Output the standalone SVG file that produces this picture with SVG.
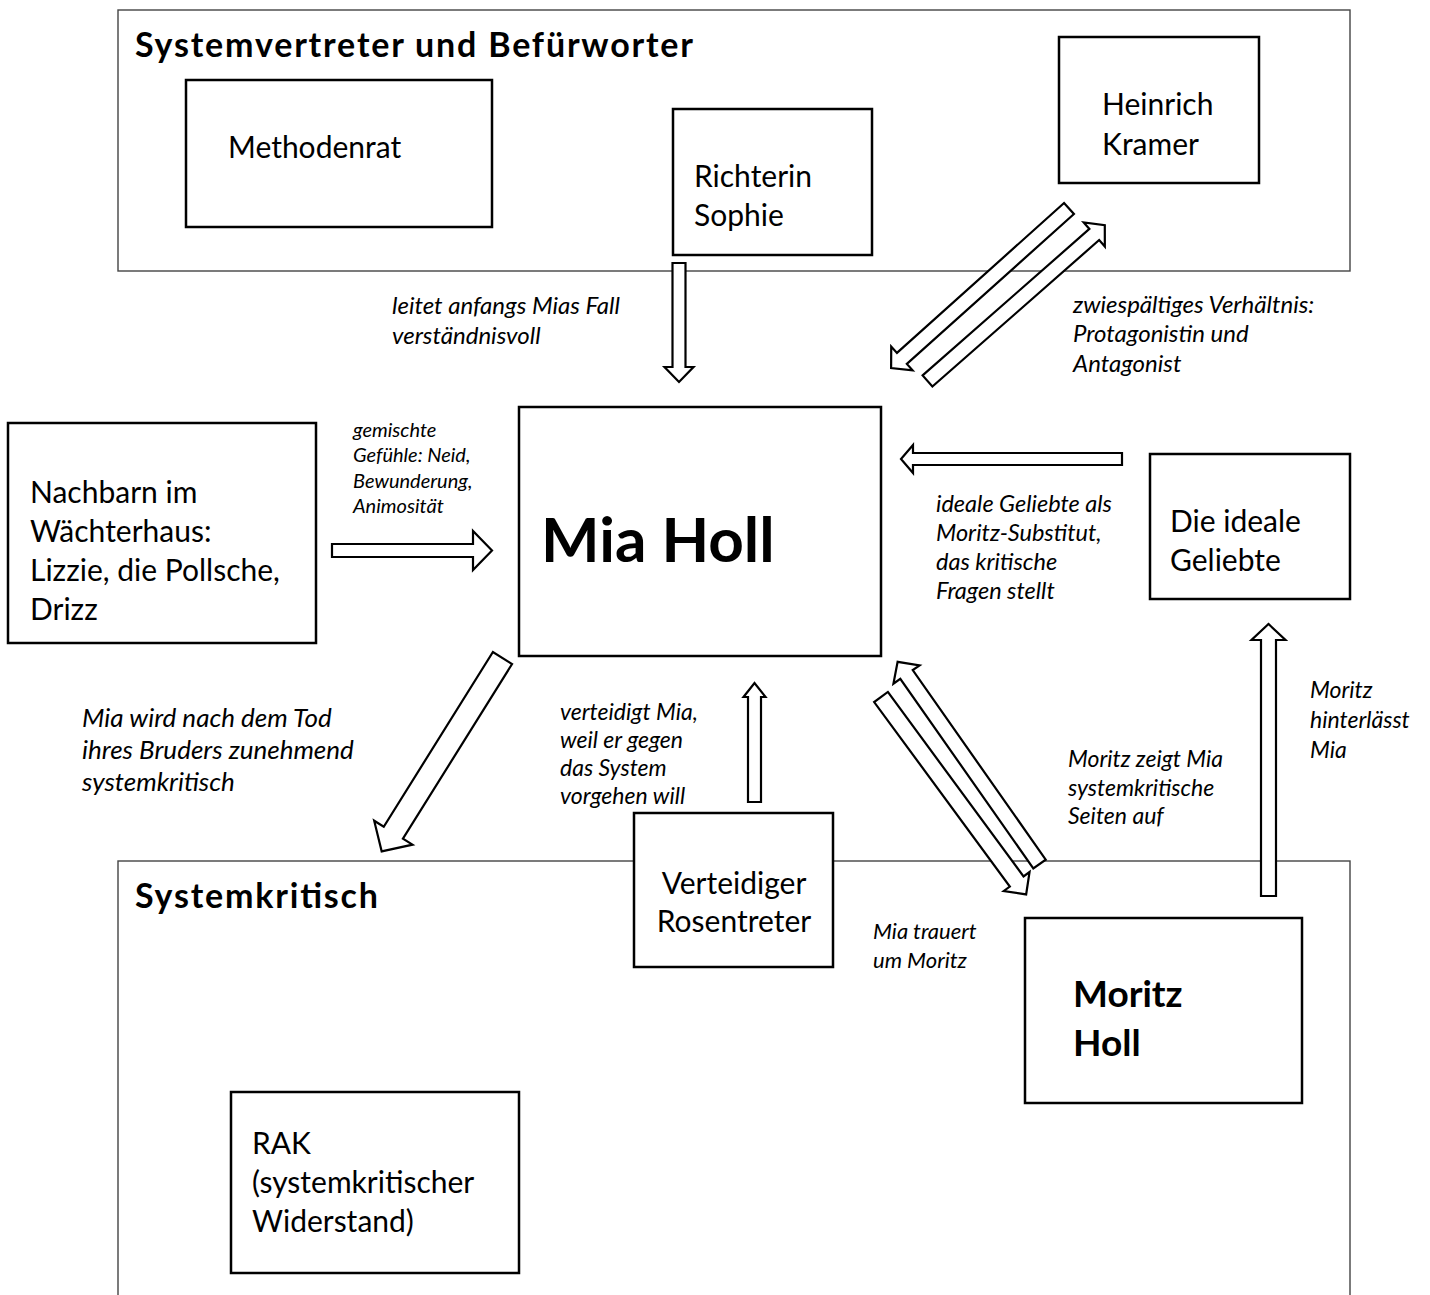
<svg xmlns="http://www.w3.org/2000/svg" width="1430" height="1295" viewBox="0 0 1430 1295">
<style>
.grp{fill:none;stroke:#444;stroke-width:1.4}
.box{fill:#fff;stroke:#000;stroke-width:2.5}
.arr{fill:#fff;stroke:#000;stroke-width:2.2;stroke-linejoin:miter}
.t{font-family:Lato,"Liberation Sans",sans-serif;font-size:30px;fill:#000}
.tb{font-family:Lato,"Liberation Sans",sans-serif;font-weight:bold;fill:#000}
.l{font-family:Lato,"Liberation Sans",sans-serif;font-style:italic;fill:#000}
</style>
<rect width="1430" height="1295" fill="#fff"/>
<g id="group-top">
<rect class="grp" x="118" y="10" width="1232" height="261"/>
<text class="tb" x="135" y="57" font-size="34" textLength="558" lengthAdjust="spacing">Systemvertreter und Befürworter</text>
</g>
<g id="group-bottom">
<rect class="grp" x="118" y="861" width="1232" height="500"/>
<text class="tb" x="135" y="908" font-size="34" textLength="243" lengthAdjust="spacing">Systemkritisch</text>
</g>
<g id="methodenrat"><rect class="box" x="186" y="80" width="306" height="147"/><text class="t" x="228" y="158">Methodenrat</text></g>
<g id="richterin"><rect class="box" x="673" y="109" width="199" height="146"/><text class="t" x="694" y="187">Richterin</text><text class="t" x="694" y="226">Sophie</text></g>
<g id="kramer"><rect class="box" x="1059" y="37" width="200" height="146"/><text class="t" x="1102" y="115">Heinrich</text><text class="t" x="1102" y="155">Kramer</text></g>
<g id="mia"><rect class="box" x="519" y="407" width="362" height="249"/><text class="tb" x="541" y="562" font-size="62">Mia Holl</text></g>
<g id="nachbarn"><rect class="box" x="8" y="423" width="308" height="220"/><text class="t" x="30" y="503">Nachbarn im</text><text class="t" x="30" y="542">Wächterhaus:</text><text class="t" x="30" y="581">Lizzie, die Pollsche,</text><text class="t" x="30" y="620">Drizz</text></g>
<g id="geliebte"><rect class="box" x="1150" y="454" width="200" height="145"/><text class="t" x="1170" y="532">Die ideale</text><text class="t" x="1170" y="571">Geliebte</text></g>
<g id="verteidiger"><rect class="box" x="634" y="813" width="199" height="154"/><text class="t" x="734" y="894" text-anchor="middle">Verteidiger</text><text class="t" x="734" y="932" text-anchor="middle">Rosentreter</text></g>
<g id="moritz"><rect class="box" x="1025" y="918" width="277" height="185"/><text class="tb" x="1073" y="1007" font-size="37">Moritz</text><text class="tb" x="1073" y="1056" font-size="37">Holl</text></g>
<g id="rak"><rect class="box" x="231" y="1092" width="288" height="181"/><text class="t" x="252" y="1154">RAK</text><text class="t" x="252" y="1193">(systemkritischer</text><text class="t" x="252" y="1232">Widerstand)</text></g>
<g id="connectors">
<path class="arr" transform="translate(679,263) rotate(90)" d="M0,-6.5 L104,-6.5 L104,-14.5 L119,0 L104,14.5 L104,6.5 L0,6.5 Z"/>
<path class="arr" transform="translate(332,550.5)" d="M0,-6.5 L141,-6.5 L141,-19.5 L160,0 L141,19.5 L141,6.5 L0,6.5 Z"/>
<path class="arr" transform="translate(1122,459) rotate(180)" d="M0,-6 L209,-6 L209,-14 L221,0 L209,14 L209,6 L0,6 Z"/>
<path class="arr" transform="translate(1268.5,896) rotate(-90)" d="M0,-7.5 L256,-7.5 L256,-17 L272,0 L256,17 L256,7.5 L0,7.5 Z"/>
<path class="arr" transform="translate(754.5,802) rotate(-90)" d="M0,-6.5 L105,-6.5 L105,-11 L119,0 L105,11 L105,6.5 L0,6.5 Z"/>
<path class="arr" transform="translate(502.5,658) rotate(122)" d="M0,-11.3 L206,-11.3 L206,-22.6 L228,0 L206,22.6 L206,11.3 L0,11.3 Z"/>
<path class="arr" transform="translate(1069,208.5) rotate(138.1)" d="M0,-7.4 L224.5,-7.4 L224.5,-16 L239,0 L224.5,16 L224.5,7.4 L0,7.4 Z"/>
<path class="arr" transform="translate(927.5,381) rotate(-41.3)" d="M0,-7.4 L222,-7.4 L222,-16 L236,0 L222,16 L222,7.4 L0,7.4 Z"/>
<path class="arr" transform="translate(1039.5,864) rotate(-125.06)" d="M0,-7.6 L231.5,-7.6 L231.5,-16 L247,0 L231.5,16 L231.5,7.6 L0,7.6 Z"/>
<path class="arr" transform="translate(881,697) rotate(53.67)" d="M0,-8.5 L229,-8.5 L229,-16 L245,0 L229,16 L229,8.5 L0,8.5 Z"/>
</g>
<g id="labels">
<text class="l" x="392" y="314" font-size="24">leitet anfangs Mias Fall</text><text class="l" x="392" y="344" font-size="24">verständnisvoll</text>
<text class="l" x="1073" y="313" font-size="24">zwiespältiges Verhältnis:</text><text class="l" x="1073" y="342" font-size="24">Protagonistin und</text><text class="l" x="1073" y="372" font-size="24">Antagonist</text>
<text class="l" x="353" y="437" font-size="20">gemischte</text><text class="l" x="353" y="462" font-size="20">Gefühle: Neid,</text><text class="l" x="353" y="488" font-size="20">Bewunderung,</text><text class="l" x="353" y="513" font-size="20">Animosität</text>
<text class="l" x="936" y="512" font-size="23.5">ideale Geliebte als</text><text class="l" x="936" y="541" font-size="23.5">Moritz-Substitut,</text><text class="l" x="936" y="570" font-size="23.5">das kritische</text><text class="l" x="936" y="599" font-size="23.5">Fragen stellt</text>
<text class="l" x="82" y="727" font-size="26">Mia wird nach dem Tod</text><text class="l" x="82" y="759" font-size="26">ihres Bruders zunehmend</text><text class="l" x="82" y="791" font-size="26">systemkritisch</text>
<text class="l" x="560" y="720" font-size="23">verteidigt Mia,</text><text class="l" x="560" y="748" font-size="23">weil er gegen</text><text class="l" x="560" y="776" font-size="23">das System</text><text class="l" x="560" y="804" font-size="23">vorgehen will</text>
<text class="l" x="1068" y="767" font-size="23">Moritz zeigt Mia</text><text class="l" x="1068" y="796" font-size="23">systemkritische</text><text class="l" x="1068" y="824" font-size="23">Seiten auf</text>
<text class="l" x="1310" y="698" font-size="23">Moritz</text><text class="l" x="1310" y="728" font-size="23">hinterlässt</text><text class="l" x="1310" y="758" font-size="23">Mia</text>
<text class="l" x="873" y="939" font-size="22">Mia trauert</text><text class="l" x="873" y="968" font-size="22">um Moritz</text>
</g>
</svg>
